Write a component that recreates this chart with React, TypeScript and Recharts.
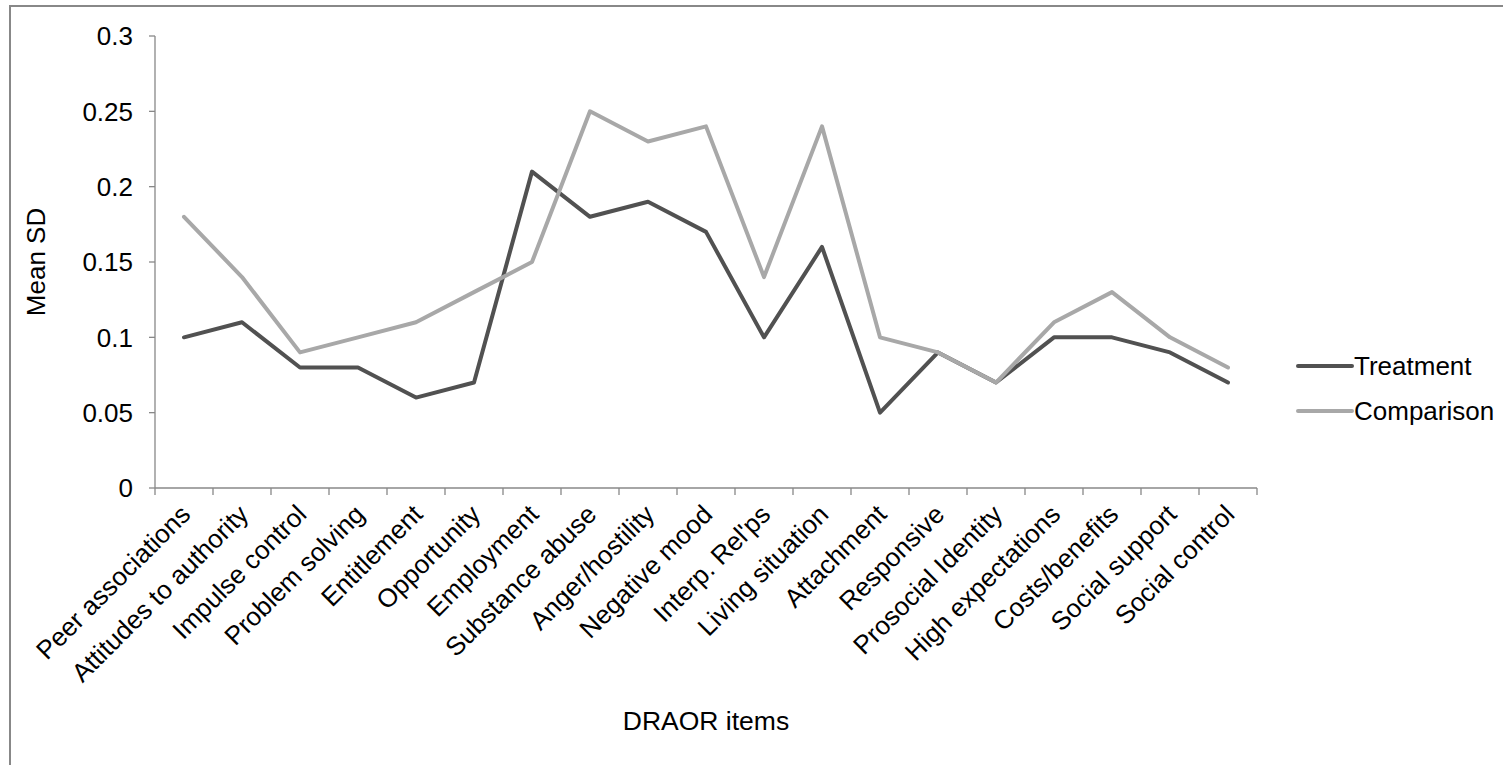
import React from "react";
import { LineChart, Line, XAxis, YAxis, Legend } from "recharts";

const categories = [
  "Peer associations",
  "Attitudes to authority",
  "Impulse control",
  "Problem solving",
  "Entitlement",
  "Opportunity",
  "Employment",
  "Substance abuse",
  "Anger/hostility",
  "Negative mood",
  "Interp. Rel'ps",
  "Living situation",
  "Attachment",
  "Responsive",
  "Prosocial Identity",
  "High expectations",
  "Costs/benefits",
  "Social support",
  "Social control",
];

const treatment = [0.1, 0.11, 0.08, 0.08, 0.06, 0.07, 0.21, 0.18, 0.19, 0.17, 0.1, 0.16, 0.05, 0.09, 0.07, 0.1, 0.1, 0.09, 0.07];
const comparison = [0.18, 0.14, 0.09, 0.1, 0.11, 0.13, 0.15, 0.25, 0.23, 0.24, 0.14, 0.24, 0.1, 0.09, 0.07, 0.11, 0.13, 0.1, 0.08];

const yTicks = [0, 0.05, 0.1, 0.15, 0.2, 0.25, 0.3];

const seriesNames = ["Treatment", "Comparison"];
const seriesColors = ["#515151", "#a8a8a8"];

const FONT = '"Liberation Sans", Arial, sans-serif';
const AXIS = "#888888";

const data = categories.map((name, i) => ({
  name,
  pos: i + 0.5,
  treatment: treatment[i],
  comparison: comparison[i],
}));

// tick marks sit between categories, labels in the middle of each
const xTicks: number[] = [];
for (let i = 0; i <= categories.length * 2; i++) xTicks.push(i / 2);

const XTick = (props: any) => {
  const { x, y, payload } = props;
  const v = payload.value;
  if (Number.isInteger(v)) {
    return <line x1={x} y1={y} x2={x} y2={y + 7} stroke={AXIS} strokeWidth={1.3} />;
  }
  const name = categories[Math.floor(v)];
  const tx = x + 8;
  const ty = y + 28;
  return (
    <text
      x={tx}
      y={ty}
      transform={`rotate(-45, ${tx}, ${ty})`}
      textAnchor='end'
      fill='#000'
      fontSize={26}
      fontFamily={FONT}>
      {name}
    </text>
  );
};

const LegendBox = () => (
  <div style={{ fontFamily: FONT, fontSize: 26, color: "#000" }}>
    {seriesNames.map((s, i) => (
      <div key={s} style={{ display: "flex", alignItems: "center", height: 45 }}>
        <svg width={58} height={10} style={{ display: "block" }}>
          <line x1={2} y1={5} x2={56} y2={5} stroke={seriesColors[i]} strokeWidth={4} strokeLinecap='round' />
        </svg>
        <span style={{ lineHeight: "30px" }}>{s}</span>
      </div>
    ))}
  </div>
);

export default function App() {
  return (
    <div
      style={{
        position: "absolute",
        left: 0,
        top: 0,
        width: 1503,
        height: 765,
        overflow: "hidden",
        background: "#fff",
      }}>
      <div
        style={{
          position: "absolute",
          left: 9,
          top: 5,
          width: 1700,
          height: 900,
          border: `2px solid ${AXIS}`,
        }}
      />
      <div style={{ position: "absolute", left: 0, top: 0 }}>
        <LineChart
          width={1503}
          height={765}
          data={data}
          margin={{ top: 36, right: 246, left: 0, bottom: 0 }}>
          <XAxis
            dataKey='pos'
            type='number'
            domain={[0, categories.length]}
            ticks={xTicks}
            interval={0}
            tickSize={0}
            tickMargin={0}
            tickLine={false}
            tick={<XTick />}
            axisLine={{ stroke: AXIS, strokeWidth: 1.3 }}
            height={277}
            label={{
              value: "DRAOR items",
              position: "insideBottom",
              offset: 35,
              fill: "#000",
              fontSize: 26.5,
              fontFamily: FONT,
            }}
          />
          <YAxis
            type='number'
            domain={[0, 0.3]}
            ticks={yTicks}
            width={155}
            tickSize={6}
            tickMargin={16}
            tick={{ fill: "#000", fontSize: 26, fontFamily: FONT }}
            tickLine={{ stroke: AXIS, strokeWidth: 1.3 }}
            axisLine={{ stroke: AXIS, strokeWidth: 1.3 }}
            label={{
              value: "Mean SD",
              angle: -90,
              position: "insideLeft",
              offset: 36,
              fill: "#000",
              fontSize: 26,
              fontFamily: FONT,
              style: { textAnchor: "middle" },
            }}
          />
          <Legend
            layout='horizontal'
            verticalAlign='middle'
            align='center'
            content={<LegendBox />}
            wrapperStyle={{ left: 1296, top: 343, width: 200 }}
          />
          <Line
            dataKey='treatment'
            name={seriesNames[0]}
            stroke={seriesColors[0]}
            strokeWidth={4}
            strokeLinecap='round'
            strokeLinejoin='round'
            dot={false}
            activeDot={false}
            isAnimationActive={false}
          />
          <Line
            dataKey='comparison'
            name={seriesNames[1]}
            stroke={seriesColors[1]}
            strokeWidth={4}
            strokeLinecap='round'
            strokeLinejoin='round'
            dot={false}
            activeDot={false}
            isAnimationActive={false}
          />
        </LineChart>
      </div>
    </div>
  );
}
